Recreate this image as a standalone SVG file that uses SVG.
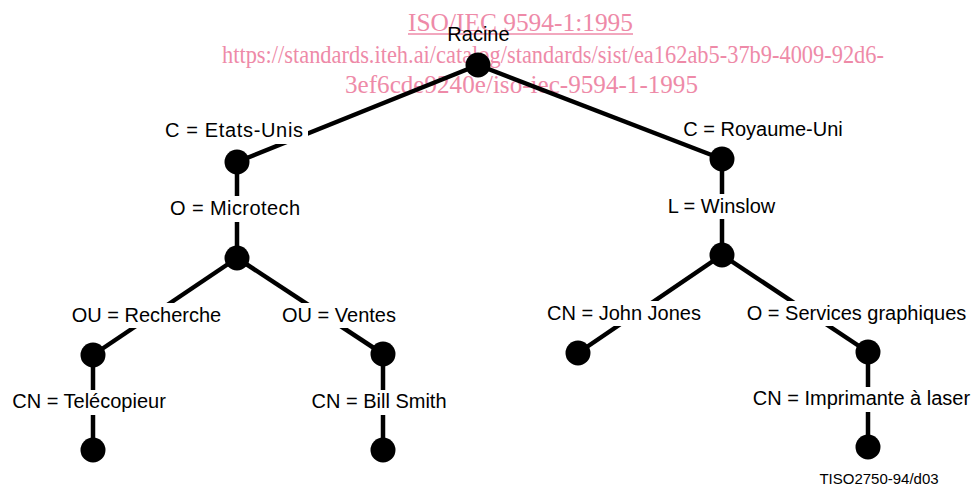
<svg xmlns="http://www.w3.org/2000/svg" width="978" height="488" viewBox="0 0 978 488">
<style>
.wm{font-family:"Liberation Serif","Times New Roman",serif;font-size:26px;fill:#ee8aa8}
.lbl{font-family:"Liberation Sans",Arial,sans-serif;font-size:20px;fill:#000;text-anchor:middle}
.bg{fill:#fff}
.edge{stroke:#000;stroke-width:4.5;stroke-linecap:butt;fill:none}
.dot{fill:#000}
.code{font-family:"Liberation Sans",Arial,sans-serif;font-size:15px;fill:#000;text-anchor:middle}
</style>
<rect width="978" height="488" fill="#fff"/>
<g id="watermark">
<text class="wm" x="408" y="31" textLength="225" lengthAdjust="spacingAndGlyphs">ISO/IEC 9594-1:1995</text>
<line x1="408" y1="34" x2="633" y2="34" stroke="#ee8aa8" stroke-width="1.5"/>
<text class="wm" x="222" y="63" textLength="662" lengthAdjust="spacingAndGlyphs">https://standards.iteh.ai/catalog/standards/sist/ea162ab5-37b9-4009-92d6-</text>
<text class="wm" x="345" y="93" textLength="353" lengthAdjust="spacingAndGlyphs">3ef6cde9240e/iso-iec-9594-1-1995</text>
</g>
<g id="connectors">
<line class="edge" x1="478" y1="65" x2="237" y2="162"/>
<line class="edge" x1="478" y1="65" x2="722" y2="159"/>
<line class="edge" x1="237" y1="162" x2="237" y2="258"/>
<line class="edge" x1="237" y1="258" x2="93" y2="355"/>
<line class="edge" x1="237" y1="258" x2="383" y2="354"/>
<line class="edge" x1="93" y1="355" x2="93" y2="450"/>
<line class="edge" x1="383" y1="354" x2="383" y2="450"/>
<line class="edge" x1="722" y1="159" x2="722" y2="255"/>
<line class="edge" x1="722" y1="255" x2="578" y2="353"/>
<line class="edge" x1="722" y1="255" x2="868" y2="352"/>
<line class="edge" x1="868" y1="352" x2="868" y2="447"/>
</g>
<g id="root">
<circle class="dot" cx="478" cy="65" r="12.5"/>
<text class="lbl" x="478.5" y="41">Racine</text>
</g>
<g id="n-etats-unis">
<rect class="bg" x="162" y="118" width="146" height="26"/>
<text class="lbl" x="234" y="137" textLength="138" lengthAdjust="spacing">C = Etats-Unis</text>
<circle class="dot" cx="237" cy="162" r="12.5"/>
</g>
<g id="n-microtech">
<rect class="bg" x="167" y="196" width="136" height="26"/>
<text class="lbl" x="235" y="215" textLength="130" lengthAdjust="spacing">O = Microtech</text>
<circle class="dot" cx="237" cy="258" r="12.5"/>
</g>
<g id="n-recherche">
<rect class="bg" x="65" y="303" width="163" height="25"/>
<text class="lbl" x="146.5" y="322">OU = Recherche</text>
<circle class="dot" cx="93" cy="355" r="12.5"/>
</g>
<g id="n-ventes">
<rect class="bg" x="277" y="303" width="124" height="25"/>
<text class="lbl" x="339" y="322">OU = Ventes</text>
<circle class="dot" cx="383" cy="354" r="12.5"/>
</g>
<g id="n-telecopieur">
<rect class="bg" x="7" y="390" width="164" height="25"/>
<text class="lbl" x="89" y="408">CN = Telécopieur</text>
<circle class="dot" cx="93" cy="450" r="12.5"/>
</g>
<g id="n-bill-smith">
<rect class="bg" x="307" y="390" width="144" height="25"/>
<text class="lbl" x="379" y="408">CN = Bill Smith</text>
<circle class="dot" cx="383" cy="450" r="12.5"/>
</g>
<g id="n-royaume-uni">
<text class="lbl" x="763" y="136">C = Royaume-Uni</text>
<circle class="dot" cx="722" cy="159" r="12.5"/>
</g>
<g id="n-winslow">
<rect class="bg" x="662" y="194" width="119" height="25"/>
<text class="lbl" x="721.5" y="213">L = Winslow</text>
<circle class="dot" cx="722" cy="255" r="12.5"/>
</g>
<g id="n-john-jones">
<rect class="bg" x="542" y="301" width="164" height="25"/>
<text class="lbl" x="624" y="320">CN = John Jones</text>
<circle class="dot" cx="578" cy="353" r="12.5"/>
</g>
<g id="n-services">
<rect class="bg" x="740" y="301" width="233" height="25"/>
<text class="lbl" x="856.5" y="320">O = Services graphiques</text>
<circle class="dot" cx="868" cy="352" r="12.5"/>
</g>
<g id="n-imprimante">
<rect class="bg" x="748" y="387" width="227" height="25"/>
<text class="lbl" x="861.5" y="405">CN = Imprimante à laser</text>
<circle class="dot" cx="868" cy="447" r="12.5"/>
</g>
<text class="code" x="879" y="484">TISO2750-94/d03</text>
</svg>
